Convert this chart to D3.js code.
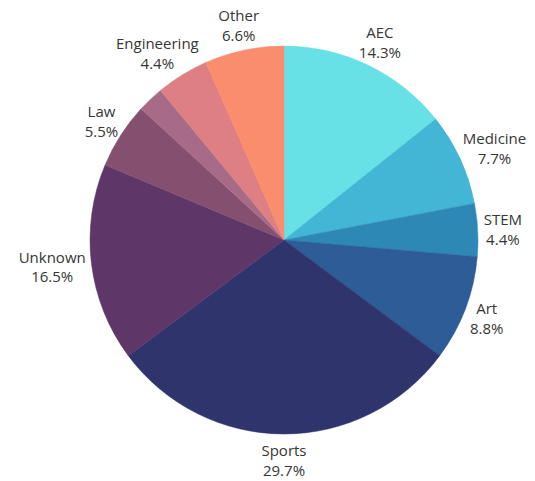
<!DOCTYPE html>
<html>
<head>
<meta charset="utf-8">
<script src="https://cdn.jsdelivr.net/npm/d3@7"></script>
<style>
  body { margin: 0; background: #fff; }
  text { font-family: "Open Sans", "Noto Sans", sans-serif; font-size: 15px; fill: #363636; }
</style>
</head>
<body>
<script>
// slices clockwise from 12 o'clock
var categories = ["AEC", "Medicine", "STEM", "Art", "Sports", "Unknown", "Law", "", "Engineering", "Other"];
var values = [14.3, 7.7, 4.4, 8.8, 29.7, 16.5, 5.5, 2.2, 4.4, 6.6];
var colors = ["#67e1e6", "#43b6d5", "#2e88b6", "#2d5c96", "#2f346c", "#5e3768", "#85506f", "#a76b88", "#dd7f83", "#fb8d6f"];

var width = 535,
    height = 481,
    radius = 194,
    cx = 284,
    cy = 240;

var data = categories.map(function(c, i) { return {name: c, value: values[i]}; });

var color = d3.scaleOrdinal()
    .domain(categories)
    .range(colors);

var pie = d3.pie()
    .sort(null)
    .value(function(d) { return d.value; });

var arc = d3.arc()
    .innerRadius(0)
    .outerRadius(radius);

var svg = d3.select("body").append("svg")
    .attr("width", width)
    .attr("height", height)
  .append("g")
    .attr("transform", "translate(" + cx + "," + cy + ")");

var g = svg.selectAll(".arc")
    .data(pie(data))
  .enter().append("g")
    .attr("class", "arc");

g.append("path")
    .attr("d", arc)
    .style("fill", function(d) { return color(d.data.name); })
    .style("stroke", function(d) { return color(d.data.name); })
    .style("stroke-width", 0.5);

// labels sit just outside the rim, pushed out by half their own box
var gap = 200;
var lab = g.filter(function(d) { return d.data.name !== ""; })
  .append("text")
    .attr("text-anchor", "middle");

lab.append("tspan")
    .attr("x", 0)
    .attr("dy", "-0.3em")
    .text(function(d) { return d.data.name; });

lab.append("tspan")
    .attr("x", 0)
    .attr("dy", "1.33em")
    .text(function(d) { return d.data.value.toFixed(1) + "%"; });

lab.attr("transform", function(d) {
  var a = (d.startAngle + d.endAngle) / 2,
      b = this.getBBox(),
      hw = b.width / 2,
      hh = b.height / 2,
      x = Math.sin(a) * (gap + hw),
      y = -Math.cos(a) * (gap + hh);
  // shift so the box centre (not the baseline) lands on x,y
  var oy = b.y + hh;
  return "translate(" + x + "," + (y - oy) + ")";
});
</script>
</body>
</html>
